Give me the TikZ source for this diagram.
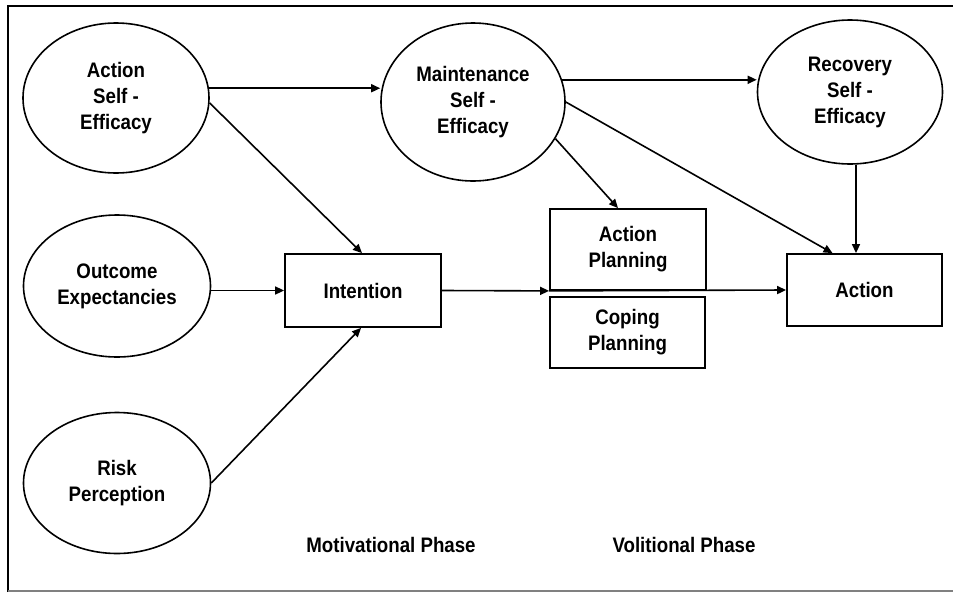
\documentclass[tikz,border=0pt]{standalone}
\usepackage{fontspec}
\setmainfont{Liberation Sans}[FakeStretch=0.89]
\usetikzlibrary{shapes.geometric,arrows.meta}
\begin{document}
\begin{tikzpicture}[x=1pt,y=-1pt,
  every node/.style={font=\fontsize{21}{26}\selectfont\bfseries, align=center, inner sep=0pt},
  construct/.style={ellipse, draw, line width=1.6pt},
  stepbox/.style={rectangle, draw, line width=1.8pt},
  arr/.style={line width=1.6pt, -{Triangle[length=9pt,width=8pt]}},
  phase/.style={anchor=base}]
\useasboundingbox (0,0) rectangle (953,592);
\clip (0,0) rectangle (953,592);
% frame
\draw[line width=2pt] (8,592) -- (8,6) -- (960,6);
\draw[line width=2pt, gray] (8,591) -- (960,591);

% motivational constructs
\node[construct, minimum width=186pt, minimum height=150pt] (ase) at (116,98) {Action\\Self -\\Efficacy};
\node[construct, minimum width=187pt, minimum height=142pt] (oe) at (117,286) {Outcome\\Expectancies};
\node[construct, minimum width=187pt, minimum height=141pt] (rp) at (117,483) {Risk\\Perception};

% volitional constructs
\node[construct, minimum width=184pt, minimum height=158pt] (mse) at (473,102) {Maintenance\\Self -\\Efficacy};
\node[construct, minimum width=185pt, minimum height=144pt] (rse) at (850,92) {Recovery\\Self -\\Efficacy};

% boxes
\node[stepbox, minimum width=156pt, minimum height=73pt] (int) at (363,290.5) {Intention};
\node[stepbox, minimum width=156pt, minimum height=81pt] (ap) at (628,249.5) {Action\\Planning};
\node[stepbox, minimum width=155pt, minimum height=71pt] (cp) at (627.5,332.5) {Coping\\Planning};
\node[stepbox, minimum width=155pt, minimum height=72pt] (act) at (864.5,290) {Action};

% phase labels
\node[phase] (mot) at (391,552) {Motivational Phase};
\node[phase] (vol) at (684,552) {Volitional Phase};

% connectors
\coordinate (aseR) at (ase.6);
\draw[arr] (aseR) -- (mse.west |- aseR);
\draw[arr] (ase.-3) -- ([xshift=-1pt]int.north);
\draw[arr] (oe.east |- int.west) -- (int.west);
\draw[arr] (rp.east) -- ([xshift=-2pt]int.south);
\coordinate (mseR) at (mse.14);
\draw[arr] (mseR) -- (rse.west |- mseR);
\draw[arr] (mse.-24) -- ([xshift=-10pt]ap.north);
\draw[arr] (mse.east) -- ([xshift=-32pt]act.north);
\draw[arr] ([xshift=6pt]rse.south) -- ([xshift=6pt]rse.south |- act.north);
\draw[arr] (int.east) -- (ap.south west);
\draw[arr] (ap.south west) -- (act.west);
\end{tikzpicture}
\end{document}
